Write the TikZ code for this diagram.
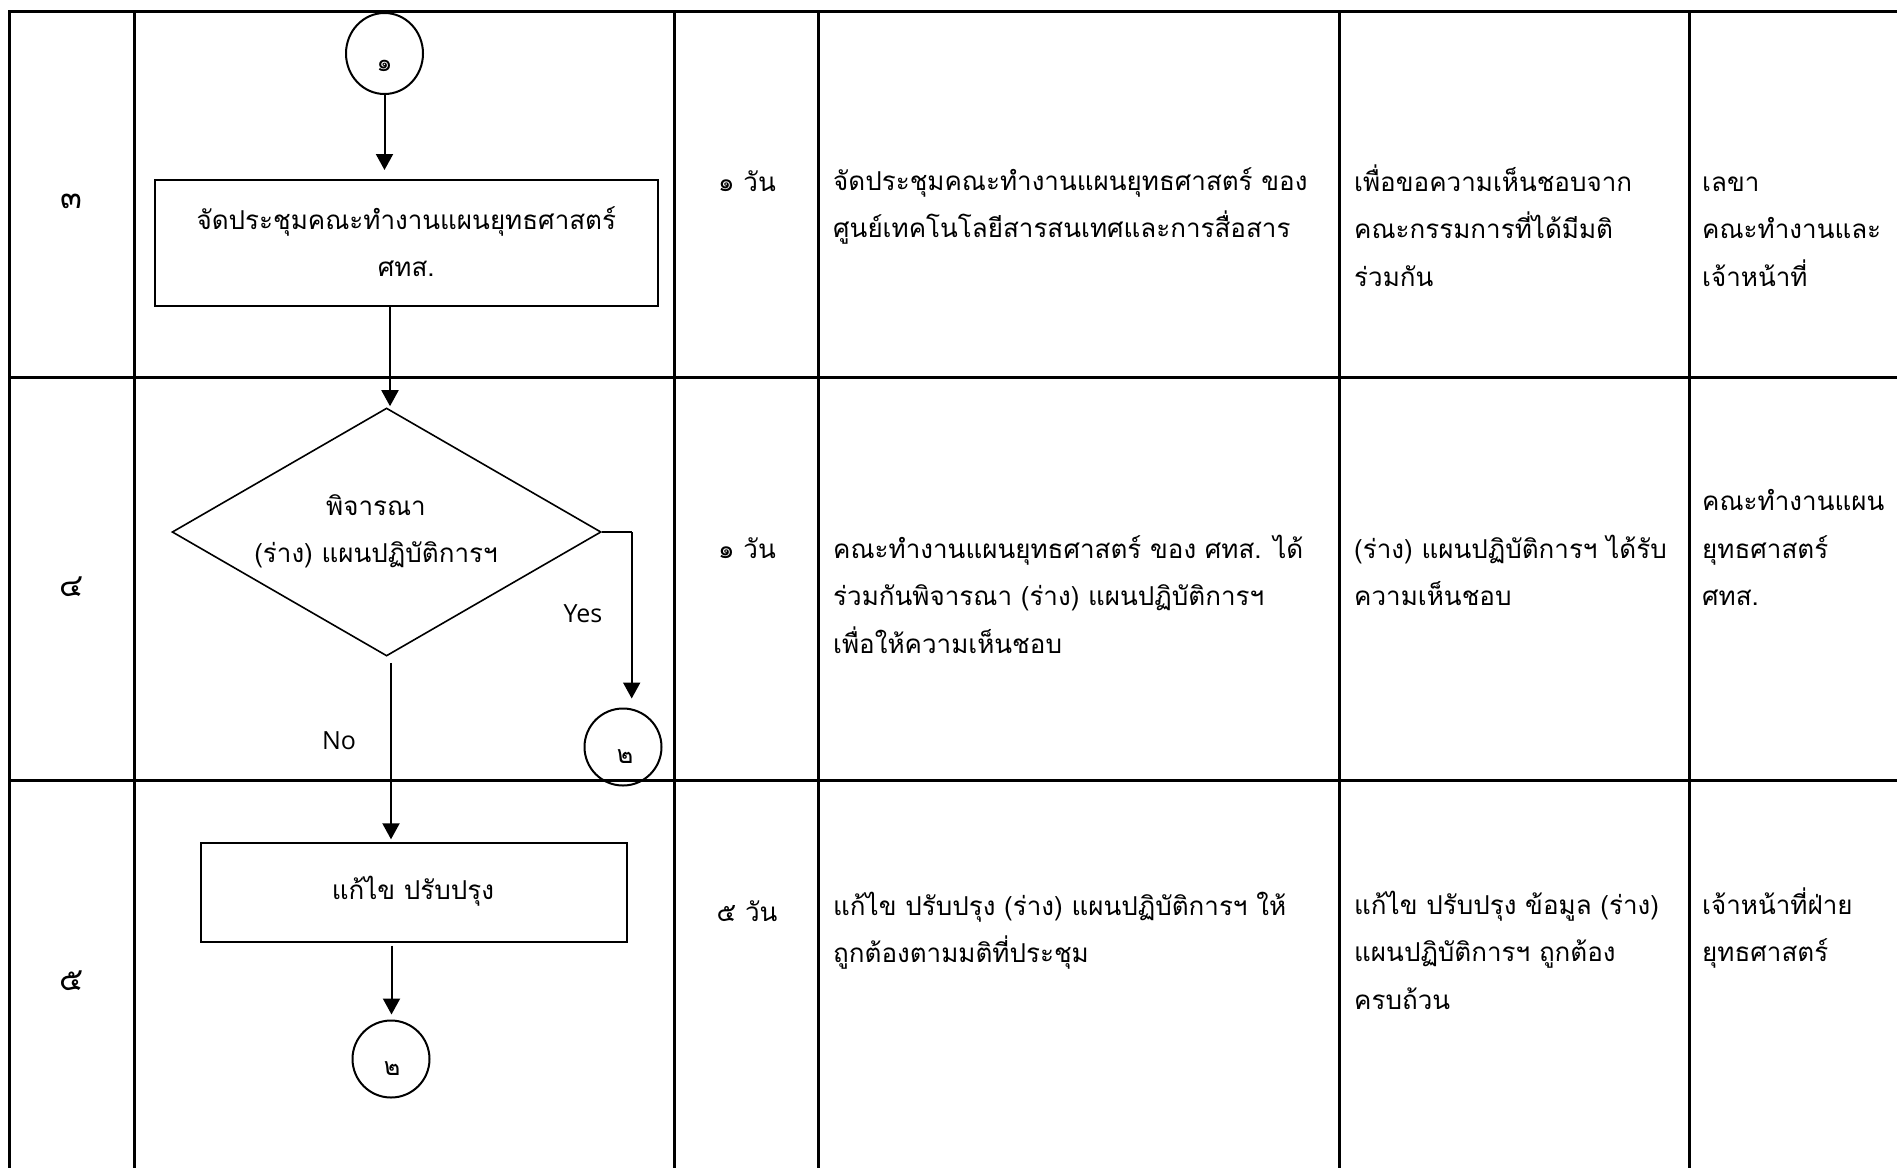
\documentclass[tikz,border=0pt]{standalone}
\usepackage{fontspec}
\setmainfont{Loma}[Script=Thai]
\newfontfamily\latinfont{Open Sans}
\usetikzlibrary{arrows.meta,shapes.geometric,calc}
\newcommand\lcell[1]{\vtop{\halign{##\hfil\cr#1\crcr}}}
\newcommand\ccell[1]{\vtop{\halign{\hfil##\hfil\cr#1\crcr}}}
\begin{document}
\begin{tikzpicture}[x=1pt,y=-1pt,
  grid/.style={line width=3pt},
  arr/.style={line width=2pt,-{Triangle[width=17pt,length=16pt]}},
  plain/.style={line width=1.6pt},
  procbox/.style={draw,line width=2pt,rectangle,inner sep=0pt},
  conn/.style={draw,line width=2pt,ellipse,inner sep=0pt,minimum width=77pt,minimum height=77pt},
  dia/.style={draw,line width=1.6pt,diamond,inner sep=0pt,minimum width=429pt,minimum height=248pt},
  txt/.style={inner sep=0pt,font=\fontsize{26}{47.5}\selectfont},
  rowlab/.style={inner sep=0pt,font=\fontsize{32}{36}\selectfont},
  small/.style={inner sep=0pt,font=\fontsize{25}{28}\selectfont},
  yn/.style={inner sep=0pt,font=\latinfont\fontsize{25}{30}\selectfont},
]
\useasboundingbox (0,0) rectangle (1897,1168);
\fill[white] (0,0) rectangle (1897,1168);
% table grid
\draw[grid] (8.2,11) -- (1897,11);
\draw[grid] (9.7,377) -- (1897,377);
\draw[grid] (9.7,780.5) -- (1897,780.5);
\foreach \x in {9.7,134.5,674.3,818.7,1339.5,1689}
  \draw[grid] (\x,11) -- (\x,1168);

% row labels
\node[rowlab] (r3) at (71.4,201) {๓};
\node[rowlab] (r4) at (71.4,587) {๔};
\node[rowlab] (r5) at (71.4,981) {๕};

% flowchart
\node[conn,minimum height=81pt] (c1) at (384.5,53.5) {};
\node[small] (c1t) at ($(c1.center)+(0,12)$) {๑};
\node[procbox,minimum width=502.6pt,minimum height=126pt] (b1) at (406.3,243) {};
\node[txt,anchor=base] (b1t) at (406.3,229) {\ccell{จัดประชุมคณะทำงานแผนยุทธศาสตร์\cr ศทส.}};
\node[dia] (d) at (386.6,532) {};
\node[txt,anchor=base] (dt) at (376,515) {\ccell{พิจารณา\cr (ร่าง) แผนปฏิบัติการฯ}};
\node[conn] (c2) at (623,747) {};
\node[small] (c2t) at ($(c2.center)+(2,10)$) {๒};
\node[procbox,minimum width=426pt,minimum height=98.4pt] (b2) at (414,892.5) {};
\node[txt,anchor=base] (b2t) at (413,899) {แก้ไข ปรับปรุง};
\node[conn] (c3) at (391,1059) {};
\node[small] (c3t) at ($(c3.center)+(1,10)$) {๒};
\node[yn] (yes) at (583,614) {Yes};
\node[yn] (no) at (339,741) {No};
\coordinate (yk) at (631.7,532);

\draw[arr,shorten >=9pt] (c1.south) -- (c1.south |- b1.north);
\draw[arr,shorten >=1pt] ([xshift=3.4pt]d.north |- b1.south) -- ([xshift=3.4pt]d.north);
\draw[plain] (d.east) -- (yk);
\draw[arr,shorten >=9pt] (yk) -- (yk |- c2.north);
\draw[arr,shorten <=6pt,shorten >=3pt] ([xshift=4.4pt]d.south) -- ([xshift=4.4pt]d.south |- b2.north);
\draw[arr,shorten <=3pt,shorten >=5pt] ([xshift=0.5pt]c3.north |- b2.south) -- ([xshift=0.5pt]c3.north);

% time column
\node[txt,anchor=base] (t3) at (747,191) {๑ วัน};
\node[txt,anchor=base] (t4) at (747,558) {๑ วัน};
\node[txt,anchor=base] (t5) at (747,921) {๕ วัน};

% description column
\node[txt,anchor=base west] (p3) at (833,190) {\lcell{จัดประชุมคณะทำงานแผนยุทธศาสตร์ ของ\cr ศูนย์เทคโนโลยีสารสนเทศและการสื่อสาร}};
\node[txt,anchor=base west] (p4) at (833,558) {\lcell{คณะทำงานแผนยุทธศาสตร์ ของ ศทส. ได้\cr ร่วมกันพิจารณา (ร่าง) แผนปฏิบัติการฯ\cr เพื่อให้ความเห็นชอบ}};
\node[txt,anchor=base west] (p5) at (833,915) {\lcell{แก้ไข ปรับปรุง (ร่าง) แผนปฏิบัติการฯ ให้\cr ถูกต้องตามมติที่ประชุม}};

% output column
\node[txt,anchor=base west] (o3) at (1354,191) {\lcell{เพื่อขอความเห็นชอบจาก\cr คณะกรรมการที่ได้มีมติ\cr ร่วมกัน}};
\node[txt,anchor=base west] (o4) at (1354,558) {\lcell{(ร่าง) แผนปฏิบัติการฯ ได้รับ\cr ความเห็นชอบ}};
\node[txt,anchor=base west] (o5) at (1354,914) {\lcell{แก้ไข ปรับปรุง ข้อมูล (ร่าง)\cr แผนปฏิบัติการฯ ถูกต้อง\cr ครบถ้วน}};

% responsible column
\node[txt,anchor=base west] (s3) at (1702,191) {\lcell{เลขา\cr คณะทำงานและ\cr เจ้าหน้าที่}};
\node[txt,anchor=base west] (s4) at (1702,510.5) {\lcell{คณะทำงานแผน\cr ยุทธศาสตร์\cr ศทส.}};
\node[txt,anchor=base west] (s5) at (1702,914) {\lcell{เจ้าหน้าที่ฝ่าย\cr ยุทธศาสตร์}};
\end{tikzpicture}
\end{document}
